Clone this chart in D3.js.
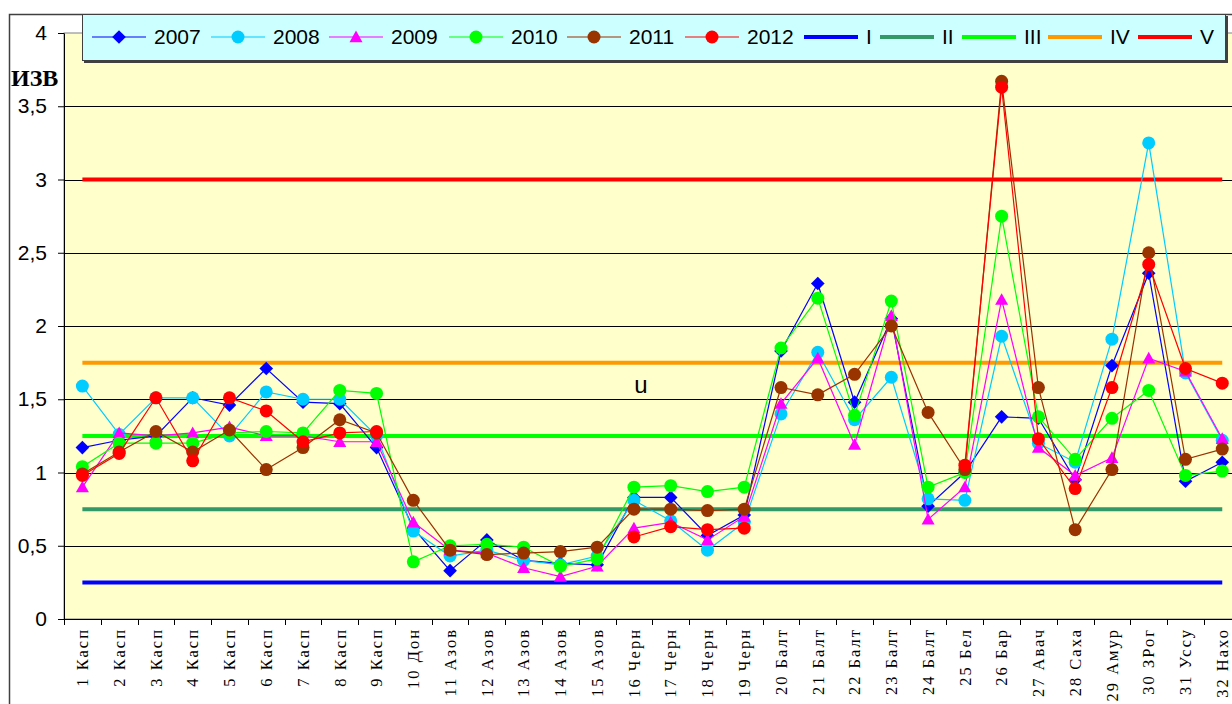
<!DOCTYPE html>
<html>
<head>
<meta charset="utf-8">
<script src="https://cdn.jsdelivr.net/npm/d3@7"></script>
<style>
  body { margin: 0; background: #fff; }
  text { font-family: "Liberation Sans", Arial, sans-serif; }
</style>
</head>
<body>
<div id="chart"></div>
<script>
// --------- DATA ---------

const categories = [
  "1 Касп", "2 Касп", "3 Касп", "4 Касп", "5 Касп", "6 Касп", "7 Касп", "8 Касп",
  "9 Касп", "10 Дон", "11 Азов", "12 Азов", "13 Азов", "14 Азов", "15 Азов", "16 Черн",
  "17 Черн", "18 Черн", "19 Черн", "20 Балт", "21 Балт", "22 Балт", "23 Балт", "24 Балт",
  "25 Бел", "26 Бар", "27 Авач", "28 Саха", "29 Амур", "30 ЗРог", "31 Уссу", "32 Нахо"
];

const years = ["2007", "2008", "2009", "2010", "2011", "2012"];

const s2007 = [1.17, 1.22, 1.25, 1.51, 1.46, 1.71, 1.48, 1.47, 1.17, 0.62, 0.33, 0.54, 0.40, 0.38, 0.37, 0.83,
               0.83, 0.57, 0.71, 1.83, 2.29, 1.48, 2.05, 0.77, 1.00, 1.38, 1.37, 0.95, 1.73, 2.36, 0.94, 1.07];
const s2008 = [1.59, 1.26, 1.51, 1.51, 1.25, 1.55, 1.50, 1.50, 1.25, 0.60, 0.43, 0.47, 0.40, 0.37, 0.43, 0.81,
               0.67, 0.47, 0.66, 1.40, 1.82, 1.36, 1.65, 0.82, 0.81, 1.93, 1.20, 1.07, 1.91, 3.25, 1.68, 1.22];
const s2009 = [0.90, 1.27, 1.25, 1.27, 1.31, 1.25, 1.25, 1.21, 1.21, 0.66, 0.47, 0.45, 0.35, 0.29, 0.36, 0.62,
               0.66, 0.54, 0.70, 1.47, 1.78, 1.19, 2.07, 0.68, 0.90, 2.18, 1.17, 0.98, 1.10, 1.78, 1.69, 1.23];
const s2010 = [1.04, 1.20, 1.20, 1.20, 1.27, 1.28, 1.27, 1.56, 1.54, 0.39, 0.50, 0.51, 0.49, 0.36, 0.41, 0.90,
               0.91, 0.87, 0.90, 1.85, 2.19, 1.39, 2.17, 0.90, 1.00, 2.75, 1.38, 1.09, 1.37, 1.56, 0.98, 1.01];
const s2011 = [0.99, 1.14, 1.28, 1.14, 1.29, 1.02, 1.17, 1.36, 1.27, 0.81, 0.47, 0.44, 0.45, 0.46, 0.49, 0.75,
               0.75, 0.74, 0.75, 1.58, 1.53, 1.67, 2.00, 1.41, 1.02, 3.67, 1.58, 0.61, 1.02, 2.50, 1.09, 1.16];
const s2012 = [0.98, 1.13, 1.51, 1.08, 1.51, 1.42, 1.21, 1.27, 1.28, null, null, null, null, null, null, 0.56,
               0.63, 0.61, 0.62, null, null, null, null, null, 1.05, 3.63, 1.23, 0.89, 1.58, 2.42, 1.71, 1.61];

const levelNames = ["I", "II", "III", "IV", "V"];
const levelValues = [0.25, 0.75, 1.25, 1.75, 3.0];

const yTicks = [0, 0.5, 1, 1.5, 2, 2.5, 3, 3.5, 4];

// --------- STYLES ---------

const seriesValues = [s2007, s2008, s2009, s2010, s2011, s2012];
const seriesColors = ["#0000FF", "#00CCFF", "#FF00FF", "#00FF00", "#993300", "#FF0000"];
const seriesMarkers = ["diamond", "circle", "triangle", "circle", "circle", "circle"];
const levelColors = ["#0000FF", "#339966", "#00FF00", "#FF9900", "#FF0000"];

const markerTypes = {
  diamond: { draw(ctx, r) { r = r * 1.05; ctx.moveTo(0, -r); ctx.lineTo(r, 0); ctx.lineTo(0, r); ctx.lineTo(-r, 0); ctx.closePath(); } },
  triangle: { draw(ctx, r) { ctx.moveTo(0, -r); ctx.lineTo(r, r * 0.8); ctx.lineTo(-r, r * 0.8); ctx.closePath(); } },
  circle: { draw(ctx, r) { ctx.moveTo(r, 0); ctx.arc(0, 0, r, 0, 2 * Math.PI); } }
};

// --------- GRAPHING ---------

const width = 1232, height = 704;
const plotLeft = 64, plotTop = 33, plotBottom = 619, step = 36.77;

const svg = d3.select("#chart").append("svg")
  .attr("width", width).attr("height", height)
  .style("display", "block");

svg.append("rect").attr("width", width).attr("height", height).attr("fill", "#fff");

// outer chart frame
svg.append("rect")
  .attr("x", 9.5).attr("y", 14.5)
  .attr("width", width + 20).attr("height", height + 20)
  .attr("fill", "#fff").attr("stroke", "#404040").attr("stroke-width", 1.5);

const x = d3.scaleBand()
  .domain(categories)
  .range([plotLeft, plotLeft + categories.length * step])
  .padding(0);
const cx = c => x(c) + x.bandwidth() / 2;

const y = d3.scaleLinear().domain([0, 4]).range([plotBottom, plotTop]);

// plot area
svg.append("rect")
  .attr("x", plotLeft).attr("y", plotTop)
  .attr("width", categories.length * step).attr("height", plotBottom - plotTop)
  .attr("fill", "#FFFFCC").attr("stroke", "#808080");

// gridlines
svg.append("g")
  .selectAll("line")
  .data(yTicks.filter(t => t > 0 && t < 4))
  .join("line")
  .attr("x1", plotLeft).attr("x2", plotLeft + categories.length * step)
  .attr("y1", d => Math.round(y(d)) + 0.5).attr("y2", d => Math.round(y(d)) + 0.5)
  .attr("stroke", "#000").attr("stroke-width", 1);

// threshold levels
const first = categories[0], last = categories[categories.length - 1];
svg.append("g")
  .selectAll("line")
  .data(levelValues)
  .join("line")
  .attr("x1", cx(first)).attr("x2", cx(last))
  .attr("y1", d => y(d)).attr("y2", d => y(d))
  .attr("stroke", (d, i) => levelColors[i])
  .attr("stroke-width", 4);

// series lines and markers
const line = d3.line()
  .defined(d => d.v !== null)
  .x(d => cx(d.c))
  .y(d => y(d.v));

seriesValues.forEach((vals, i) => {
  const data = categories.map((c, j) => ({ c: c, v: vals[j] }));
  const g = svg.append("g");
  g.append("path")
    .attr("d", line(data))
    .attr("fill", "none")
    .attr("stroke", seriesColors[i])
    .attr("stroke-width", 1.2);
  g.selectAll("path.mark")
    .data(data.filter(d => d.v !== null))
    .join("path")
    .attr("class", "mark")
    .attr("transform", d => "translate(" + cx(d.c) + "," + y(d.v) + ")")
    .attr("d", d3.symbol().type(markerTypes[seriesMarkers[i]]).size(6.5))
    .attr("fill", seriesColors[i]);
});

// axes
const yAxis = svg.append("g")
  .attr("transform", "translate(" + plotLeft + ",0)")
  .call(d3.axisLeft(y).tickValues(yTicks).tickSize(6).tickSizeOuter(0).tickPadding(11)
    .tickFormat(d => String(d).replace(".", ",")));
yAxis.selectAll("text").style("font-size", "21px").attr("fill", "#000");
yAxis.select(".domain").attr("stroke", "#000");

svg.append("line")
  .attr("x1", plotLeft).attr("x2", width)
  .attr("y1", plotBottom + 0.5).attr("y2", plotBottom + 0.5)
  .attr("stroke", "#000");

svg.append("g")
  .selectAll("line")
  .data(categories)
  .join("line")
  .attr("x1", d => Math.round(x(d)) + 0.5).attr("x2", d => Math.round(x(d)) + 0.5)
  .attr("y1", plotBottom).attr("y2", plotBottom + 6)
  .attr("stroke", "#000");

svg.append("g")
  .selectAll("text")
  .data(categories)
  .join("text")
  .attr("transform", d => "translate(" + cx(d) + "," + (plotBottom + 9) + ") rotate(-90)")
  .attr("text-anchor", "end")
  .attr("dy", "0.35em")
  .style("font-family", "'Liberation Serif', 'Times New Roman', serif")
  .style("font-size", "16.5px")
  .style("letter-spacing", "2px")
  .text(d => d);

// y title and annotation
svg.append("text")
  .attr("x", 11).attr("y", 86)
  .style("font-family", "'Liberation Serif', 'Times New Roman', serif")
  .style("font-size", "24px")
  .style("font-weight", "bold")
  .text("ИЗВ");

svg.append("text")
  .attr("x", 641).attr("y", 393)
  .attr("text-anchor", "middle")
  .style("font-size", "24px")
  .text("u");

// legend
const legend = svg.append("g");
legend.append("rect")
  .attr("x", 84).attr("y", 16).attr("width", 1144).attr("height", 47)
  .attr("fill", "#404040");
legend.append("rect")
  .attr("x", 82.5).attr("y", 14.5).attr("width", 1143).attr("height", 46)
  .attr("fill", "#CCFFFF").attr("stroke", "#404040");

const legendStarts = [92, 211, 329, 449, 567, 685, 804, 880, 962, 1048, 1138];
const lineLen = 54, legendY = 37;
const legendItems = years.map((yr, i) => ({ name: yr, color: seriesColors[i], marker: seriesMarkers[i], thick: false }))
  .concat(levelNames.map((n, i) => ({ name: n, color: levelColors[i], marker: null, thick: true })));

legendItems.forEach((item, i) => {
  const lx = legendStarts[i];
  legend.append("line")
    .attr("x1", lx).attr("x2", lx + lineLen)
    .attr("y1", legendY).attr("y2", legendY)
    .attr("stroke", item.color)
    .attr("stroke-width", item.thick ? 4 : 1.2);
  if (item.marker) {
    legend.append("path")
      .attr("transform", "translate(" + (lx + lineLen / 2) + "," + legendY + ")")
      .attr("d", d3.symbol().type(markerTypes[item.marker]).size(6.5))
      .attr("fill", item.color);
  }
  legend.append("text")
    .attr("x", lx + lineLen + 8)
    .attr("y", legendY + 7)
    .style("font-size", "21px")
    .text(item.name);
});
</script>
</body>
</html>
